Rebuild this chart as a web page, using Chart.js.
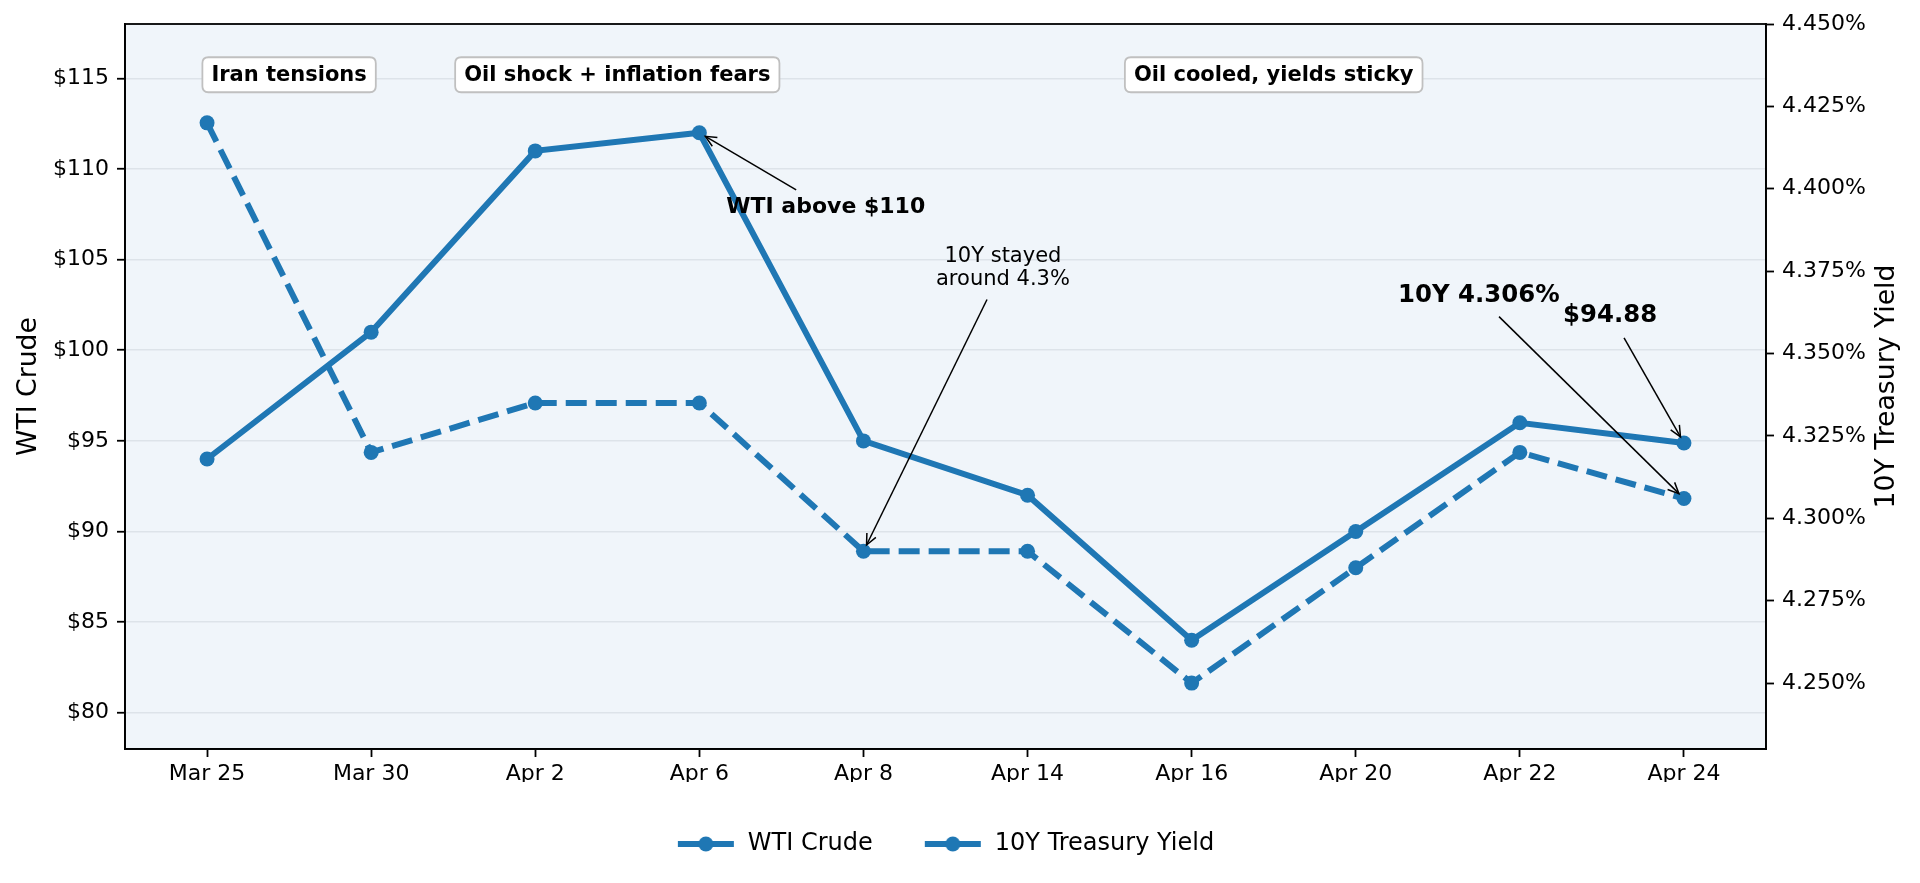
<!DOCTYPE html>
<html>
<head>
<meta charset="utf-8">
<script src="https://cdn.jsdelivr.net/npm/chart.js@4.4.1/dist/chart.umd.min.js"></script>
<style>
  html, body { margin: 0; padding: 0; background: #ffffff; }
  canvas { display: block; }
</style>
</head>
<body>
<canvas id="c" width="1920" height="883" style="width:1920px;height:883px"></canvas>
<script>
// ---------------- data ----------------
const categories = ['Mar 25', 'Mar 30', 'Apr 2', 'Apr 6', 'Apr 8', 'Apr 14', 'Apr 16', 'Apr 20', 'Apr 22', 'Apr 24'];
const wtiValues = [94, 101, 111, 112, 95, 92, 84, 90, 96, 94.88];
const yieldValues = [4.42, 4.32, 4.335, 4.335, 4.29, 4.29, 4.25, 4.285, 4.32, 4.306];
const wtiTicks = [80, 85, 90, 95, 100, 105, 110, 115];
const yieldTicks = [4.25, 4.275, 4.3, 4.325, 4.35, 4.375, 4.4, 4.425, 4.45];
const seriesNames = ['WTI Crude', '10Y Treasury Yield'];

// ---------------- annotations (data space) ----------------
const regionBoxes = [
  { text: 'Iran tensions', x: 0.5, y: 115.2 },
  { text: 'Oil shock + inflation fears', x: 2.5, y: 115.2 },
  { text: 'Oil cooled, yields sticky', x: 6.5, y: 115.2 }
];
const callouts = [
  { lines: ['WTI above $110'], axis: 'y', tx: 3.77, ty: 107.9, font: 'bold 22px', ax: 3.59, ay: 108.85, ds: 0, idx: 3 },
  { lines: ['10Y stayed', 'around 4.3%'], axis: 'y1', tx: 4.85, ty: 4.376, font: '21px', ax: 4.753, ay: 4.3664, ds: 1, idx: 4 },
  { lines: ['10Y 4.306%'], axis: 'y1', tx: 7.75, ty: 4.3676, font: 'bold 24.4px', ax: 7.873, ay: 4.3612, ds: 1, idx: 9 },
  { lines: ['$94.88'], axis: 'y', tx: 8.55, ty: 101.9, font: 'bold 24.4px', ax: 8.635, ay: 100.68, ds: 0, idx: 9 }
];

const BLUE = '#1f77b4';
const FAM = "'DejaVu Sans', 'Liberation Sans', sans-serif";
const LW = 6;
const DASH = [21, 9];

function legendImage(dashed) {
  const c = document.createElement('canvas');
  c.width = 60; c.height = 20;
  const g = c.getContext('2d');
  g.strokeStyle = BLUE; g.lineWidth = LW;
  g.beginPath();
  if (dashed) {
    g.moveTo(2, 10); g.lineTo(25.5, 10);
    g.moveTo(34.5, 10); g.lineTo(58, 10);
  } else {
    g.moveTo(2, 10); g.lineTo(58, 10);
  }
  g.stroke();
  g.fillStyle = BLUE;
  g.beginPath(); g.arc(30, 10, 7.5, 0, Math.PI * 2); g.fill();
  return c;
}
const legendImgs = [legendImage(false), legendImage(true)];

function drawArrow(ctx, x0, y0, x1, y1, shrink) {
  const dx = x1 - x0, dy = y1 - y0;
  const len = Math.hypot(dx, dy);
  const ux = dx / len, uy = dy / len;
  const ex = x1 - ux * shrink, ey = y1 - uy * shrink;
  ctx.save();
  ctx.strokeStyle = '#000';
  ctx.lineWidth = 1.5;
  ctx.beginPath();
  ctx.moveTo(x0, y0); ctx.lineTo(ex, ey); ctx.stroke();
  const hl = 11, hw = 5;
  const bx = ex - ux * hl, by = ey - uy * hl;
  ctx.beginPath();
  ctx.moveTo(bx - uy * hw, by + ux * hw);
  ctx.lineTo(ex, ey);
  ctx.lineTo(bx + uy * hw, by - ux * hw);
  ctx.stroke();
  ctx.restore();
}

function roundRect(ctx, x, y, w, h, r) {
  ctx.beginPath();
  ctx.moveTo(x + r, y);
  ctx.lineTo(x + w - r, y);
  ctx.quadraticCurveTo(x + w, y, x + w, y + r);
  ctx.lineTo(x + w, y + h - r);
  ctx.quadraticCurveTo(x + w, y + h, x + w - r, y + h);
  ctx.lineTo(x + r, y + h);
  ctx.quadraticCurveTo(x, y + h, x, y + h - r);
  ctx.lineTo(x, y + r);
  ctx.quadraticCurveTo(x, y, x + r, y);
  ctx.closePath();
}

const decorPlugin = {
  id: 'decor',
  beforeDraw(chart) {
    const { ctx, chartArea: a } = chart;
    ctx.save();
    ctx.fillStyle = '#f0f5fa';
    ctx.fillRect(a.left, a.top, a.right - a.left, a.bottom - a.top);
    ctx.restore();
  },
  afterDatasetsDraw(chart) {
    const { ctx, chartArea: a, scales } = chart;
    const xs = scales.x;
    ctx.save();
    // frame
    ctx.strokeStyle = '#000';
    ctx.lineWidth = 1.8;
    ctx.strokeRect(a.left, a.top, a.right - a.left, a.bottom - a.top);

    // region boxes
    ctx.font = 'bold 21px ' + FAM;
    ctx.textAlign = 'center';
    ctx.textBaseline = 'middle';
    regionBoxes.forEach(b => {
      const cx = xs.getPixelForValue(b.x);
      const cy = scales.y.getPixelForValue(b.y);
      const w = ctx.measureText(b.text).width + 18;
      const h = 35;
      roundRect(ctx, cx - w / 2, cy - h / 2, w, h, 6);
      ctx.fillStyle = '#ffffff';
      ctx.fill();
      ctx.strokeStyle = '#c0c0c0';
      ctx.lineWidth = 1.8;
      ctx.stroke();
      ctx.fillStyle = '#000';
      ctx.fillText(b.text, cx, cy + 1);
    });

    // callouts
    callouts.forEach(c => {
      const ys = scales[c.axis];
      const meta = chart.getDatasetMeta(c.ds);
      const pt = meta.data[c.idx];
      drawArrow(ctx, xs.getPixelForValue(c.ax), ys.getPixelForValue(c.ay), pt.x, pt.y, 7);
    });
    callouts.forEach(c => {
      const ys = scales[c.axis];
      const cx = xs.getPixelForValue(c.tx);
      const cy = ys.getPixelForValue(c.ty);
      ctx.font = c.font + ' ' + FAM;
      ctx.fillStyle = '#000';
      ctx.textAlign = 'center';
      ctx.textBaseline = 'middle';
      const lh = 23.5;
      const n = c.lines.length;
      c.lines.forEach((t, i) => {
        ctx.fillText(t, cx, cy + (i - (n - 1) / 2) * lh);
      });
    });

    // right axis title (reads bottom to top)
    ctx.save();
    ctx.translate(1887, (a.top + a.bottom) / 2);
    ctx.rotate(-Math.PI / 2);
    ctx.font = '26.7px ' + FAM;
    ctx.fillStyle = '#000';
    ctx.textAlign = 'center';
    ctx.textBaseline = 'middle';
    ctx.fillText('10Y Treasury Yield', 0, 0);
    ctx.restore();

    ctx.restore();
  }
};

const tickFont = { family: FAM, size: 22 };

new Chart(document.getElementById('c'), {
  type: 'line',
  data: {
    labels: categories,
    datasets: [
      {
        label: seriesNames[0],
        data: wtiValues,
        yAxisID: 'y',
        borderColor: BLUE,
        backgroundColor: BLUE,
        borderWidth: LW,
        pointRadius: 7.5,
        pointBorderWidth: 0,
        pointBackgroundColor: BLUE,
        tension: 0,
        fill: false
      },
      {
        label: seriesNames[1],
        data: yieldValues,
        yAxisID: 'y1',
        borderColor: BLUE,
        backgroundColor: BLUE,
        borderWidth: LW,
        borderDash: DASH,
        pointRadius: 7.5,
        pointBorderWidth: 0,
        pointBackgroundColor: BLUE,
        tension: 0,
        fill: false
      }
    ]
  },
  options: {
    responsive: false,
    animation: false,
    events: [],
    layout: { padding: { top: 24, right: 30, bottom: 17, left: 0 } },
    scales: {
      x: {
        type: 'category',
        offset: true,
        grid: { display: true, drawOnChartArea: false, drawTicks: true, tickLength: 8, tickColor: '#000', tickWidth: 1.8 },
        border: { display: true, color: '#000', width: 1.8 },
        ticks: { font: tickFont, color: '#000', padding: 4, maxRotation: 0, autoSkip: false },
        afterFit(s) { s.height = 33; }
      },
      y: {
        position: 'left',
        min: 78,
        max: 118,
        afterBuildTicks(s) { s.ticks = wtiTicks.map(v => ({ value: v })); },
        grid: { color: '#dde3e9', lineWidth: 1.5, drawTicks: true, tickLength: 8, tickColor: '#000', tickWidth: 1.8 },
        border: { display: true, color: '#000', width: 1.8 },
        ticks: { font: tickFont, color: '#000', padding: 8, callback: v => '$' + v },
        title: { display: true, text: 'WTI Crude', color: '#000', font: { family: FAM, size: 26.7 }, padding: { top: 13, bottom: 0 } },
        afterFit(s) { s.width = 125; }
      },
      y1: {
        position: 'right',
        min: 4.23,
        max: 4.45,
        afterBuildTicks(s) { s.ticks = yieldTicks.map(v => ({ value: v })); },
        grid: { drawOnChartArea: false, drawTicks: true, tickLength: 8, tickColor: '#000', tickWidth: 1.8 },
        border: { display: true, color: '#000', width: 1.8 },
        ticks: { font: tickFont, color: '#000', padding: 8, callback: v => v.toFixed(3) + '%' },
        afterFit(s) { s.width = 124; }
      }
    },
    plugins: {
      tooltip: { enabled: false },
      title: { display: false },
      legend: {
        display: true,
        position: 'bottom',
        align: 'center',
        labels: {
          font: { family: FAM, size: 24 },
          color: '#000',
          padding: 50,
          usePointStyle: true,
          pointStyleWidth: 60,
          generateLabels(chart) {
            return chart.data.datasets.map((ds, i) => ({
              text: ds.label,
              pointStyle: legendImgs[i],
              fillStyle: BLUE,
              strokeStyle: BLUE,
              lineWidth: 0,
              hidden: false,
              datasetIndex: i,
              fontColor: '#000'
            }));
          }
        }
      }
    }
  },
  plugins: [decorPlugin]
});
</script>
</body>
</html>
